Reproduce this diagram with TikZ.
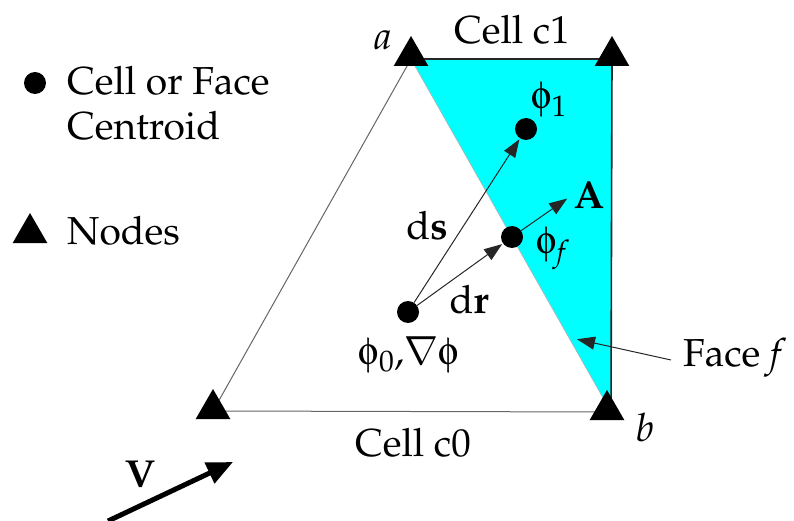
\documentclass[tikz,border=0pt]{standalone}
\usepackage[T1]{fontenc}
\usepackage{mathpazo}
\usepackage[Symbol]{upgreek}
\usetikzlibrary{arrows.meta,shapes.geometric}
\definecolor{cellcyan}{RGB}{0,255,255}
\tikzset{
  txt/.style={inner sep=0pt,font=\fontsize{39}{45}\selectfont},
  dot/.style={circle,fill=black,inner sep=0pt,minimum size=22pt},
  nodetri/.style={regular polygon,regular polygon sides=3,fill=black,inner sep=0pt,minimum size=40pt},
  edge/.style={draw=gray!80!black,line width=1pt},
  dark/.style={draw=black!85,line width=1.6pt},
  arr/.style={draw=black!85,line width=1pt,-{Triangle[length=18pt,width=13pt]},shorten >=1pt},
  bigarr/.style={draw=black,line width=5pt,-{Triangle[length=26pt,width=22pt]}}
}
\begin{document}
\begin{tikzpicture}[x=1pt,y=-1pt]
\useasboundingbox (0,0) rectangle (794,521);
% vertices
\coordinate (a) at (411,59);
\coordinate (c) at (612,59);
\coordinate (b) at (611,412);
\coordinate (d) at (213,411);
% cell c1 (cyan)
\fill[cellcyan] (a) -- (c) -- (b) -- cycle;
\draw[edge] (a) -- (d) -- (b);
\draw[draw=gray!60,line width=0.6pt] (a) -- (b);
\draw[dark] (a) -- (c) -- (b);
% node markers
\node[nodetri] (ta) at ([yshift=3pt]a) {};
\node[nodetri] (tc) at ([yshift=3pt]c) {};
\node[nodetri] (tb) at ([yshift=2pt,xshift=-4pt]b) {};
\node[nodetri] (td) at ([yshift=2pt]d) {};
% centroids
\node[dot] (p0) at (408,312) {};
\node[dot] (pf) at (512,237) {};
\node[dot] (p1) at (526,129) {};
\coordinate (At) at (568,198);
\draw[arr] (p0) -- (p1);
\draw[arr] (p0) -- (pf);
\draw[arr] (pf) -- (At);
% labels
\node[txt] (la) at (383,40) {\textit{a}};
\node[txt] (lb) at (645,428) {\textit{b}};
\node[txt] (lc1) at (512,30) {Cell c1};
\node[txt] (lc0) at (413,443) {Cell c0};
\node[txt] (l1) at (549,100) {$\upphi_1$};
\node[txt] (lf) at (553,248) {$\upphi_{\mathit{f}}$};
\node[txt] (lA) at (589,195) {\textbf{A}};
\node[txt] (lds) at (427,226) {d\textbf{s}};
\node[txt] (ldr) at (469,300) {d\textbf{r}};
\node[txt] (l0) at (409,355) {$\upphi_0$,$\nabla\upphi$};
\node[txt,anchor=west] (lface) at (683,358) {Face \textit{f}};
\coordinate (ft) at (576,339);
\draw[arr] (lface.west) ++(-12,2) coordinate (fs) (fs) -- (ft);
% legend
\node[dot] (ldot) at (35,83) {};
\node[txt,anchor=base west] (lg1) at (67,95) {Cell or Face};
\node[txt,anchor=base west] (lg2) at (67,140) {Centroid};
\node[nodetri] (ltri) at (30,233) {};
\node[txt,anchor=base west] (lg3) at (67,244) {Nodes};
% V
\coordinate (vs) at (108,521);
\coordinate (ve) at (233,462);
\draw[bigarr] (vs) -- (ve);
\node[txt] (lV) at (140,475) {\textbf{V}};
\end{tikzpicture}
\end{document}
